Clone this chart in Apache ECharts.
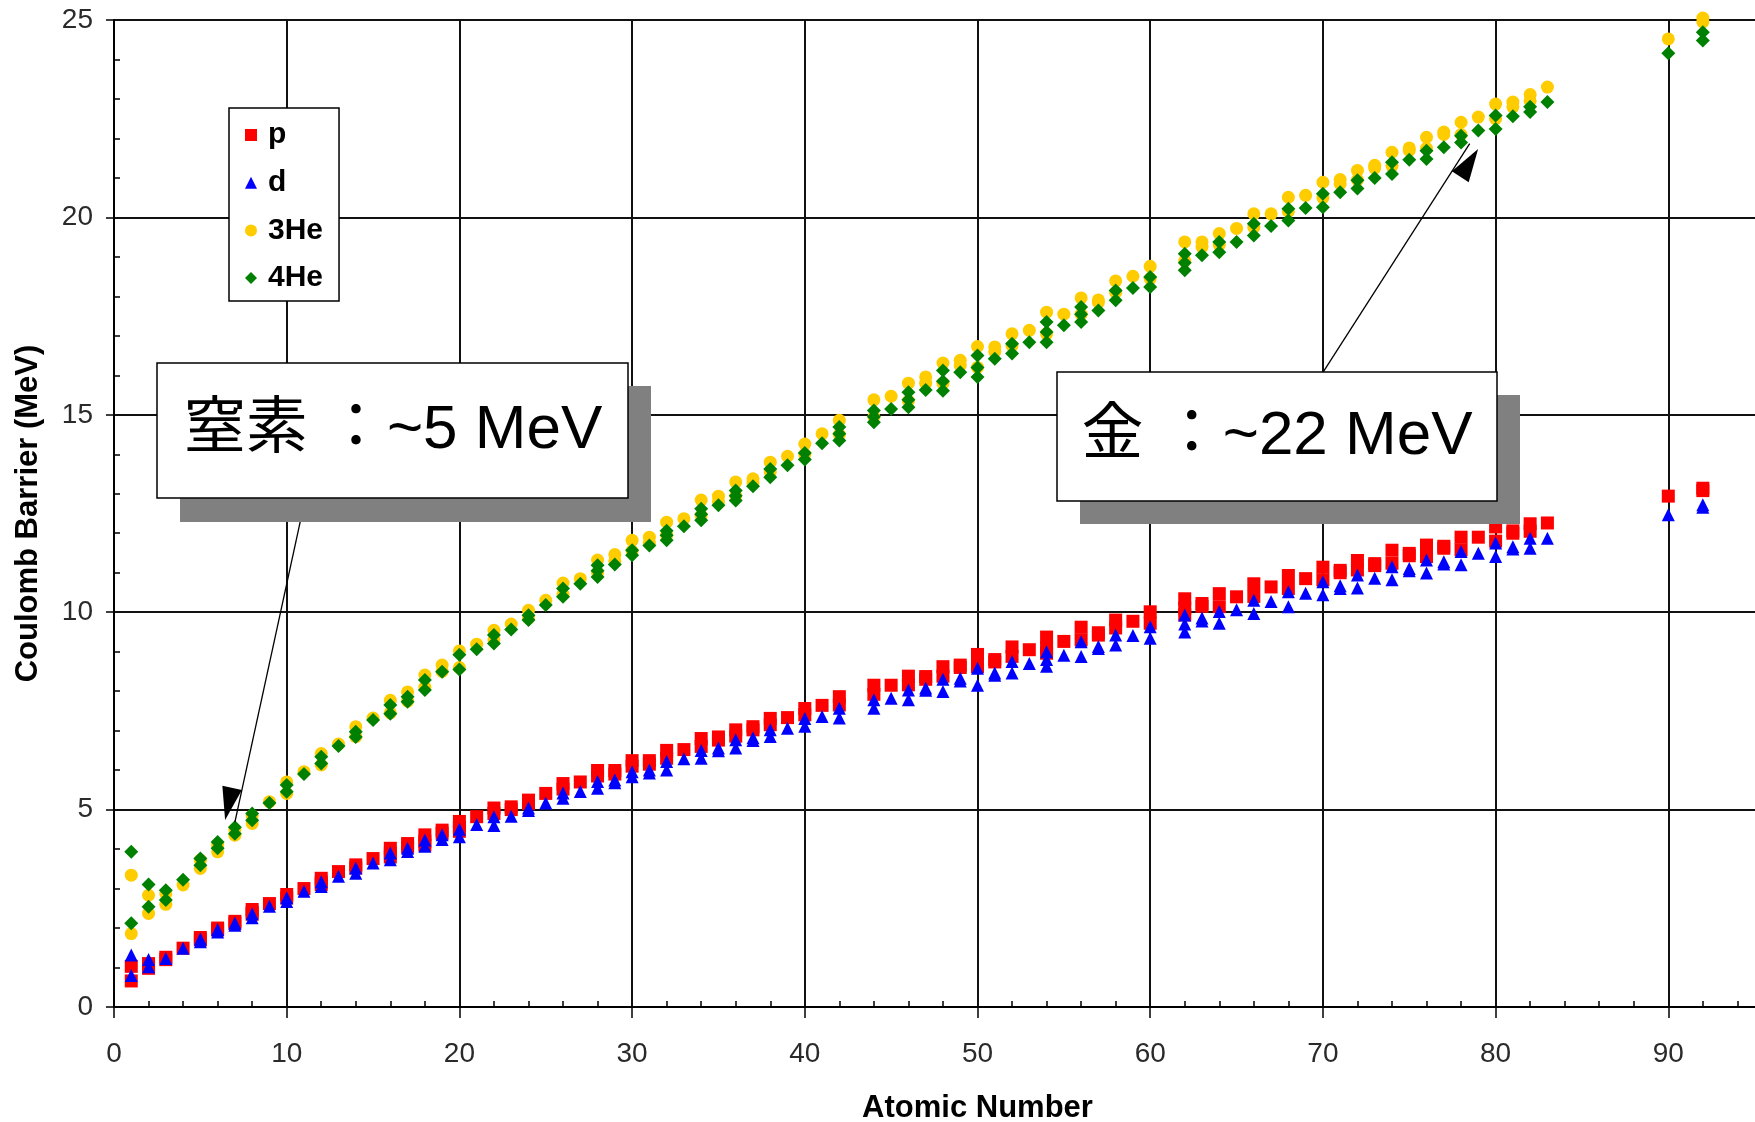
<!DOCTYPE html>
<html>
<head>
<meta charset="utf-8">
<script src="https://cdn.jsdelivr.net/npm/echarts@6/dist/echarts.min.js"></script>
<style>
html,body{margin:0;padding:0;background:#fff;}
#chart{width:1755px;height:1122px;}
</style>
</head>
<body>
<div id="chart"></div>
<script>
// ---- Data: each row = [atomic number Z, barrier values of its isotopes (MeV)] ----
const seriesNames = ['p', 'd', '3He', '4He'];
const xTickValues = [0, 10, 20, 30, 40, 50, 60, 70, 80, 90];
const yTickValues = [0, 5, 10, 15, 20, 25];

const protonBarrier = [
  [1, 1.03, 0.66], [2, 1.1, 0.98], [3, 1.26, 1.2], [4, 1.49], [5, 1.76, 1.7], [6, 2.0, 1.95],
  [7, 2.17, 2.12], [8, 2.47, 2.4, 2.35], [9, 2.62], [10, 2.85, 2.76], [11, 3.0], [12, 3.26, 3.17, 3.1],
  [13, 3.43], [14, 3.6, 3.52], [15, 3.76], [16, 4.02, 3.9, 3.8], [17, 4.14, 4.05], [18, 4.36, 4.2, 4.1],
  [19, 4.48, 4.4], [20, 4.7, 4.55, 4.45], [21, 4.82], [22, 5.04, 4.9], [23, 5.07, 5.0], [24, 5.24, 5.15],
  [25, 5.41], [26, 5.66, 5.52], [27, 5.70], [28, 5.99, 5.85], [29, 5.99, 5.9], [30, 6.24, 6.1],
  [31, 6.24, 6.15], [32, 6.5, 6.3], [33, 6.52], [34, 6.8, 6.6], [35, 6.84, 6.76], [36, 7.02, 6.86],
  [37, 7.1, 7.02], [38, 7.31, 7.15], [39, 7.33], [40, 7.56, 7.4], [41, 7.64], [42, 7.86, 7.65],
  [44, 8.15, 7.92], [45, 8.15], [46, 8.38, 8.16], [47, 8.37, 8.3], [48, 8.62, 8.38], [49, 8.66, 8.6],
  [50, 8.93, 8.62], [51, 8.8, 8.74], [52, 9.12, 8.88], [53, 9.05], [54, 9.37, 9.1, 8.96], [55, 9.26],
  [56, 9.62, 9.3], [57, 9.48, 9.42], [58, 9.8, 9.6], [59, 9.77], [60, 10.01, 9.72],
  [62, 10.34, 10.1, 9.93], [63, 10.22, 10.15], [64, 10.47, 10.14], [65, 10.39], [66, 10.72, 10.4],
  [67, 10.64], [68, 10.93, 10.6], [69, 10.85], [70, 11.14, 10.82], [71, 11.06, 11.0], [72, 11.31, 11.07],
  [73, 11.23, 11.18], [74, 11.57, 11.24], [75, 11.49, 11.43], [76, 11.7, 11.41], [77, 11.67, 11.62],
  [78, 11.9, 11.58], [79, 11.9], [80, 12.16, 11.8], [81, 12.06, 12.0], [82, 12.24, 12.05], [83, 12.26],
  [90, 12.94], [92, 13.14, 13.08]
];

const deuteronBarrier = [
  [1, 1.32, 0.8], [2, 1.2, 1.02], [3, 1.23], [4, 1.49], [5, 1.72, 1.65], [6, 1.96, 1.9],
  [7, 2.13, 2.07], [8, 2.36, 2.26], [9, 2.55], [10, 2.77, 2.67], [11, 2.93], [12, 3.17, 3.05],
  [13, 3.31], [14, 3.52, 3.39], [15, 3.65], [16, 3.9, 3.73], [17, 4.02, 3.94], [18, 4.23, 4.07],
  [19, 4.36, 4.24], [20, 4.5, 4.31], [21, 4.62], [22, 4.82, 4.6], [23, 4.83], [24, 5.04, 4.98],
  [25, 5.17], [26, 5.42, 5.29], [27, 5.46], [28, 5.71, 5.54], [29, 5.75, 5.68], [30, 5.96, 5.83],
  [31, 6.0, 5.93], [32, 6.22, 6.0], [33, 6.29], [34, 6.5, 6.3], [35, 6.56, 6.49], [36, 6.77, 6.56],
  [37, 6.82, 6.75], [38, 7.02, 6.85], [39, 7.06], [40, 7.31, 7.11], [41, 7.36], [42, 7.57, 7.32],
  [44, 7.78, 7.57], [45, 7.82], [46, 8.03, 7.78], [47, 8.08, 8.02], [48, 8.3, 7.99], [49, 8.33, 8.26],
  [50, 8.58, 8.15], [51, 8.46, 8.4], [52, 8.75, 8.46], [53, 8.7], [54, 9.0, 8.8, 8.63], [55, 8.91],
  [56, 9.25, 8.88], [57, 9.13, 9.08], [58, 9.42, 9.17], [59, 9.41], [60, 9.63, 9.34],
  [62, 9.93, 9.7, 9.5], [63, 9.85, 9.78], [64, 10.02, 9.72], [65, 10.06], [66, 10.3, 9.97],
  [67, 10.27], [68, 10.52, 10.14], [69, 10.48], [70, 10.77, 10.44], [71, 10.67, 10.6], [72, 10.94, 10.61],
  [73, 10.86], [74, 11.15, 10.82], [75, 11.11, 11.05], [76, 11.32, 10.99], [77, 11.28, 11.22],
  [78, 11.54, 11.2], [79, 11.49], [80, 11.75, 11.41], [81, 11.66, 11.6], [82, 11.87, 11.62], [83, 11.87],
  [90, 12.47], [92, 12.72, 12.66]
];

const helium3Barrier = [
  [1, 3.34, 1.86], [2, 2.83, 2.37], [3, 2.87, 2.6], [4, 3.09], [5, 3.72, 3.51], [6, 4.1, 3.93],
  [7, 4.5, 4.35], [8, 4.85, 4.65], [9, 5.2], [10, 5.7, 5.41], [11, 5.96], [12, 6.42, 6.13],
  [13, 6.66], [14, 7.1, 6.85], [15, 7.32], [16, 7.77, 7.45], [17, 7.98, 7.75], [18, 8.41, 8.1],
  [19, 8.66, 8.5], [20, 9.02, 8.6], [21, 9.19], [22, 9.54, 9.3], [23, 9.7], [24, 10.05, 9.85],
  [25, 10.3], [26, 10.74, 10.45], [27, 10.85], [28, 11.32, 11.0], [29, 11.46, 11.3], [30, 11.82, 11.55],
  [31, 11.9, 11.75], [32, 12.28, 11.95], [33, 12.37], [34, 12.84, 12.45], [35, 12.94, 12.8], [36, 13.3, 12.95],
  [37, 13.38, 13.28], [38, 13.8, 13.55], [39, 13.95], [40, 14.26, 14.0], [41, 14.52], [42, 14.86, 14.5],
  [44, 15.38, 14.95], [45, 15.47], [46, 15.8, 15.35], [47, 15.96, 15.8], [48, 16.31, 15.8], [49, 16.38, 16.25],
  [50, 16.73, 16.2], [51, 16.72, 16.6], [52, 17.05, 16.75], [53, 17.14], [54, 17.6, 17.05], [55, 17.55],
  [56, 17.96, 17.55], [57, 17.91, 17.85], [58, 18.39, 18.1], [59, 18.51], [60, 18.76, 18.45],
  [62, 19.38, 18.9], [63, 19.38, 19.25], [64, 19.59, 19.3], [65, 19.72], [66, 20.09, 19.75],
  [67, 20.09], [68, 20.51, 20.15], [69, 20.56], [70, 20.89, 20.5], [71, 20.96, 20.85], [72, 21.19, 20.95],
  [73, 21.32, 21.25], [74, 21.65, 21.3], [75, 21.76, 21.7], [76, 22.03, 21.75], [77, 22.16, 22.1],
  [78, 22.41, 22.1], [79, 22.54], [80, 22.87, 22.5], [81, 22.92, 22.8], [82, 23.11, 22.95], [83, 23.3],
  [90, 24.52], [92, 25.05, 24.95]
];

const helium4Barrier = [
  [1, 3.93, 2.12], [2, 3.1, 2.54], [3, 2.96, 2.71], [4, 3.22], [5, 3.76, 3.59], [6, 4.18, 4.02],
  [7, 4.55, 4.39], [8, 4.9, 4.73], [9, 5.17], [10, 5.62, 5.45], [11, 5.9], [12, 6.34, 6.17],
  [13, 6.61], [14, 6.97, 6.84], [15, 7.27], [16, 7.65, 7.43], [17, 7.86, 7.73], [18, 8.28, 8.03],
  [19, 8.49], [20, 8.92, 8.55], [21, 9.06], [22, 9.42, 9.21], [23, 9.56], [24, 9.92, 9.8],
  [25, 10.18], [26, 10.6, 10.39], [27, 10.72], [28, 11.19, 11.05, 10.89], [29, 11.21], [30, 11.57, 11.44],
  [31, 11.69], [32, 12.06, 11.95, 11.82], [33, 12.18], [34, 12.62, 12.48, 12.33], [35, 12.71], [36, 13.08, 12.95, 12.83],
  [37, 13.19], [38, 13.63, 13.42], [39, 13.72], [40, 14.03, 13.87], [41, 14.28], [42, 14.69, 14.52, 14.35],
  [44, 15.11, 14.95, 14.81], [45, 15.15], [46, 15.57, 15.38, 15.19], [47, 15.63], [48, 16.12, 15.85, 15.61], [49, 16.08],
  [50, 16.5, 16.2, 15.96], [51, 16.42], [52, 16.8, 16.55], [53, 16.84], [54, 17.35, 17.1, 16.84], [55, 17.27],
  [56, 17.73, 17.55, 17.35], [57, 17.64], [58, 18.15, 17.9], [59, 18.21], [60, 18.49, 18.24],
  [62, 19.08, 18.85, 18.66], [63, 19.04], [64, 19.38, 19.12], [65, 19.38], [66, 19.84, 19.54],
  [67, 19.78], [68, 20.22, 19.92], [69, 20.24], [70, 20.6, 20.26], [71, 20.64], [72, 20.94, 20.73],
  [73, 21.0], [74, 21.4, 21.1], [75, 21.46], [76, 21.69, 21.48], [77, 21.78],
  [78, 22.07, 21.9], [79, 22.2], [80, 22.58, 22.24], [81, 22.56], [82, 22.8, 22.67], [83, 22.92],
  [90, 24.16], [92, 24.69, 24.48]
];

// Annotation arrows in data coordinates: [fromZ, fromMeV, toZ, toMeV]
const annotationArrows = [
  [11.08, 12.89, 7.0, 4.68],   // nitrogen
  [70.04, 16.1, 78.5, 21.87]   // gold
];
const annotationTexts = ['窒素 ：~5 MeV', '金 ：~22 MeV'];

// ---- Build ----
function expand(rows) {
  const out = [];
  rows.forEach(r => { for (let i = 1; i < r.length; i++) out.push([r[0], r[i]]); });
  return out;
}

const chart = echarts.init(document.getElementById('chart'), null, {renderer: 'canvas'});
const labelFont = "'Liberation Sans Narrow', 'Liberation Sans', Arial, sans-serif";
const boldFont = "'Liberation Sans', Arial, sans-serif";
const gridColor = '#111';

const scatterBase = {type: 'scatter', clip: false, emphasis: {disabled: true}, silent: true};

const option = {
  animation: false,
  backgroundColor: '#fff',
  grid: {left: 114, right: -86, top: 20, bottom: 115, containLabel: false, outerBoundsMode: 'none'},
  legend: {
    orient: 'vertical', left: 229, top: 108,
    data: seriesNames,
    selectedMode: false,
    backgroundColor: '#fff', borderColor: '#000', borderWidth: 1.5, borderRadius: 0,
    padding: [12, 16, 8, 16],
    itemWidth: 12, itemHeight: 12, itemGap: 17.7,
    textStyle: {fontSize: 30, fontWeight: 'bold', color: '#000', fontFamily: boldFont, lineHeight: 30, padding: [0, 0, 0, 6]}
  },
  xAxis: {
    type: 'value', min: 0, max: 100, interval: 10,
    name: 'Atomic Number', nameLocation: 'middle', nameGap: 86,
    nameTextStyle: {fontSize: 31, fontWeight: 'bold', color: '#000', fontFamily: boldFont},
    axisLine: {show: true, onZero: false, lineStyle: {color: '#000', width: 2}},
    axisTick: {show: true, inside: false, length: 11, lineStyle: {color: '#000', width: 1.5}},
    minorTick: {show: true, splitNumber: 5, length: -6, lineStyle: {color: '#000', width: 1.5}},
    splitLine: {show: true, lineStyle: {color: gridColor, width: 2}},
    axisLabel: {
      margin: 33, fontSize: 28, color: '#2a2a2a', fontFamily: labelFont,
      formatter: v => (xTickValues.indexOf(v) >= 0 ? String(v) : '')
    }
  },
  yAxis: {
    type: 'value', min: 0, max: 25, interval: 5,
    name: 'Coulomb Barrier (MeV)', nameLocation: 'middle', nameGap: 70, nameRotate: 90,
    nameTextStyle: {fontSize: 31, fontWeight: 'bold', color: '#000', fontFamily: boldFont},
    axisLine: {show: true, onZero: false, lineStyle: {color: '#000', width: 2}},
    axisTick: {show: true, inside: false, length: 8, lineStyle: {color: '#000', width: 1.5}},
    minorTick: {show: true, splitNumber: 5, length: -6, lineStyle: {color: '#000', width: 1.5}},
    splitLine: {show: true, lineStyle: {color: gridColor, width: 2}},
    axisLabel: {
      margin: 21, fontSize: 28, color: '#2a2a2a', fontFamily: labelFont,
      formatter: v => (yTickValues.indexOf(v) >= 0 ? String(v) : '')
    }
  },
  series: [
    Object.assign({}, scatterBase, {name: 'p', symbol: 'rect', symbolSize: 13,
      itemStyle: {color: '#ff0000', opacity: 1}, data: expand(protonBarrier)}),
    Object.assign({}, scatterBase, {name: 'd', symbol: 'triangle', symbolSize: 13,
      itemStyle: {color: '#0000ff', opacity: 1}, data: expand(deuteronBarrier)}),
    Object.assign({}, scatterBase, {name: '3He', symbol: 'circle', symbolSize: 13,
      itemStyle: {color: '#ffcc00', opacity: 1}, data: expand(helium3Barrier)}),
    Object.assign({}, scatterBase, {name: '4He', symbol: 'diamond', symbolSize: 14,
      itemStyle: {color: '#008000', opacity: 1}, data: expand(helium4Barrier),
      markLine: {
        silent: true, animation: false,
        symbol: ['none', 'triangle'], symbolSize: [20, 33], symbolOffset: [0, '50%'],
        label: {show: false},
        emphasis: {disabled: true},
        lineStyle: {color: '#000', width: 1.3, type: 'solid', opacity: 1},
        itemStyle: {color: '#000'},
        data: annotationArrows.map(a => [{coord: [a[0], a[1]]}, {coord: [a[2], a[3]]}])
      }
    })
  ],
  graphic: [
    {type: 'rect', z: 50, shape: {x: 180, y: 386, width: 471, height: 136}, style: {fill: '#808080'}},
    {type: 'rect', z: 51, shape: {x: 157, y: 363, width: 471, height: 135}, style: {fill: '#fff', stroke: '#000', lineWidth: 1.5}},
    {type: 'text', z: 52, x: 393, y: 431, style: {text: annotationTexts[0], font: "62px 'Liberation Sans', 'Noto Sans CJK JP', sans-serif",
      fill: '#000', align: 'center', verticalAlign: 'middle', textAlign: 'center', textVerticalAlign: 'middle'}},
    {type: 'rect', z: 50, shape: {x: 1080, y: 395, width: 440, height: 129}, style: {fill: '#808080'}},
    {type: 'rect', z: 51, shape: {x: 1057, y: 372, width: 440, height: 129}, style: {fill: '#fff', stroke: '#000', lineWidth: 1.5}},
    {type: 'text', z: 52, x: 1277, y: 437, style: {text: annotationTexts[1], font: "62px 'Liberation Sans', 'Noto Sans CJK JP', sans-serif",
      fill: '#000', align: 'center', verticalAlign: 'middle', textAlign: 'center', textVerticalAlign: 'middle'}}
  ]
};
chart.setOption(option);
</script>
</body>
</html>
